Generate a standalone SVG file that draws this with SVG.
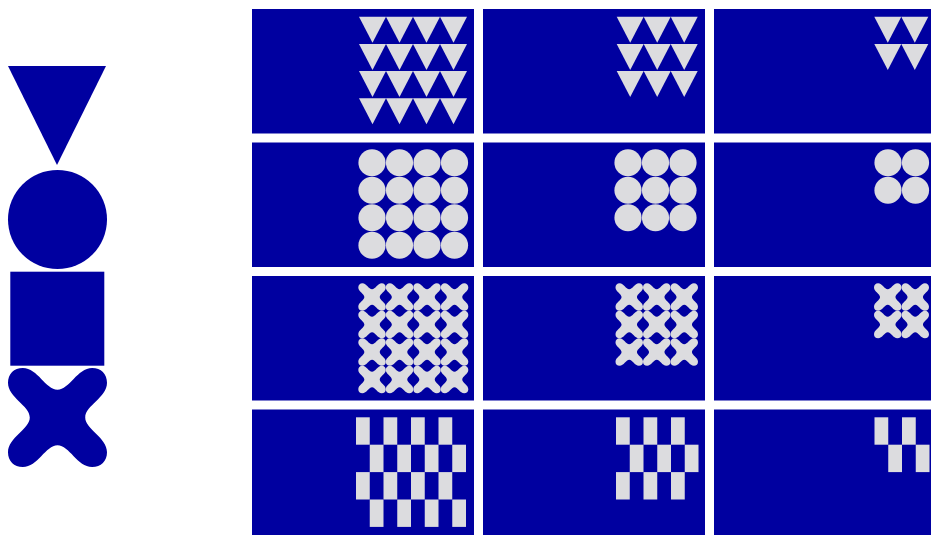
<svg xmlns="http://www.w3.org/2000/svg" xmlns:xlink="http://www.w3.org/1999/xlink" width="931" height="535" viewBox="0 0 931 535">
<style>
.b{fill:#0000a0}
.g{fill:#dcdcdf}
</style>
<defs>
<polygon id="tri" points="0,0 27,0 13.5,26"/>
<path id="cross" d="M50,22 C62,22 70,0 85,0 C94,0 100,6 100,15 C100,30 78,38 78,50 C78,62 100,70 100,85 C100,94 94,100 85,100 C70,100 62,78 50,78 C38,78 30,100 15,100 C6,100 0,94 0,85 C0,70 22,62 22,50 C22,38 0,30 0,15 C0,6 6,0 15,0 C30,0 38,22 50,22 Z"/>
</defs>
<rect width="931" height="535" fill="#ffffff"/>
<g id="legend" class="b">
<polygon points="8,66 106,66 57,165"/>
<circle cx="57.5" cy="219.5" r="49.5"/>
<rect x="10.3" y="271.7" width="94" height="94"/>
<use href="#cross" transform="translate(8,368) scale(0.99)"/>
</g>
<g id="panels" class="b">
<rect x="252" y="9" width="222" height="124.5"/>
<rect x="483" y="9" width="222" height="124.5"/>
<rect x="714" y="9" width="222" height="124.5"/>
<rect x="252" y="142.5" width="222" height="124.5"/>
<rect x="483" y="142.5" width="222" height="124.5"/>
<rect x="714" y="142.5" width="222" height="124.5"/>
<rect x="252" y="276" width="222" height="124.5"/>
<rect x="483" y="276" width="222" height="124.5"/>
<rect x="714" y="276" width="222" height="124.5"/>
<rect x="252" y="409.5" width="222" height="125.5"/>
<rect x="483" y="409.5" width="222" height="125.5"/>
<rect x="714" y="409.5" width="222" height="125.5"/>
</g>
<g id="triangles" class="g">
<use href="#tri" x="359" y="16.7"/><use href="#tri" x="386" y="16.7"/><use href="#tri" x="413" y="16.7"/><use href="#tri" x="440" y="16.7"/>
<use href="#tri" x="359" y="43.9"/><use href="#tri" x="386" y="43.9"/><use href="#tri" x="413" y="43.9"/><use href="#tri" x="440" y="43.9"/>
<use href="#tri" x="359" y="71.1"/><use href="#tri" x="386" y="71.1"/><use href="#tri" x="413" y="71.1"/><use href="#tri" x="440" y="71.1"/>
<use href="#tri" x="359" y="98.3"/><use href="#tri" x="386" y="98.3"/><use href="#tri" x="413" y="98.3"/><use href="#tri" x="440" y="98.3"/>
<use href="#tri" x="616.7" y="16.7"/><use href="#tri" x="643.7" y="16.7"/><use href="#tri" x="670.7" y="16.7"/>
<use href="#tri" x="616.7" y="43.9"/><use href="#tri" x="643.7" y="43.9"/><use href="#tri" x="670.7" y="43.9"/>
<use href="#tri" x="616.7" y="71.1"/><use href="#tri" x="643.7" y="71.1"/><use href="#tri" x="670.7" y="71.1"/>
<use href="#tri" x="874.3" y="16.7"/><use href="#tri" x="901.3" y="16.7"/>
<use href="#tri" x="874.3" y="43.9"/><use href="#tri" x="901.3" y="43.9"/>
</g>
<g id="circles" class="g">
<circle cx="372" cy="162.75" r="13.6"/><circle cx="399.5" cy="162.75" r="13.6"/><circle cx="427" cy="162.75" r="13.6"/><circle cx="454.5" cy="162.75" r="13.6"/>
<circle cx="372" cy="190.25" r="13.6"/><circle cx="399.5" cy="190.25" r="13.6"/><circle cx="427" cy="190.25" r="13.6"/><circle cx="454.5" cy="190.25" r="13.6"/>
<circle cx="372" cy="217.75" r="13.6"/><circle cx="399.5" cy="217.75" r="13.6"/><circle cx="427" cy="217.75" r="13.6"/><circle cx="454.5" cy="217.75" r="13.6"/>
<circle cx="372" cy="245.25" r="13.6"/><circle cx="399.5" cy="245.25" r="13.6"/><circle cx="427" cy="245.25" r="13.6"/><circle cx="454.5" cy="245.25" r="13.6"/>
<circle cx="628" cy="162.75" r="13.6"/><circle cx="655.5" cy="162.75" r="13.6"/><circle cx="683" cy="162.75" r="13.6"/>
<circle cx="628" cy="190.25" r="13.6"/><circle cx="655.5" cy="190.25" r="13.6"/><circle cx="683" cy="190.25" r="13.6"/>
<circle cx="628" cy="217.75" r="13.6"/><circle cx="655.5" cy="217.75" r="13.6"/><circle cx="683" cy="217.75" r="13.6"/>
<circle cx="888" cy="162.75" r="13.6"/><circle cx="915.5" cy="162.75" r="13.6"/>
<circle cx="888" cy="190.25" r="13.6"/><circle cx="915.5" cy="190.25" r="13.6"/>
</g>
<g id="crosses" class="g">
<use href="#cross" transform="translate(358.3,283.3) scale(0.275)"/><use href="#cross" transform="translate(385.8,283.3) scale(0.275)"/><use href="#cross" transform="translate(413.3,283.3) scale(0.275)"/><use href="#cross" transform="translate(440.8,283.3) scale(0.275)"/>
<use href="#cross" transform="translate(358.3,310.8) scale(0.275)"/><use href="#cross" transform="translate(385.8,310.8) scale(0.275)"/><use href="#cross" transform="translate(413.3,310.8) scale(0.275)"/><use href="#cross" transform="translate(440.8,310.8) scale(0.275)"/>
<use href="#cross" transform="translate(358.3,338.3) scale(0.275)"/><use href="#cross" transform="translate(385.8,338.3) scale(0.275)"/><use href="#cross" transform="translate(413.3,338.3) scale(0.275)"/><use href="#cross" transform="translate(440.8,338.3) scale(0.275)"/>
<use href="#cross" transform="translate(358.3,365.8) scale(0.275)"/><use href="#cross" transform="translate(385.8,365.8) scale(0.275)"/><use href="#cross" transform="translate(413.3,365.8) scale(0.275)"/><use href="#cross" transform="translate(440.8,365.8) scale(0.275)"/>
<use href="#cross" transform="translate(615.5,283.3) scale(0.275)"/><use href="#cross" transform="translate(643,283.3) scale(0.275)"/><use href="#cross" transform="translate(670.5,283.3) scale(0.275)"/>
<use href="#cross" transform="translate(615.5,310.8) scale(0.275)"/><use href="#cross" transform="translate(643,310.8) scale(0.275)"/><use href="#cross" transform="translate(670.5,310.8) scale(0.275)"/>
<use href="#cross" transform="translate(615.5,338.3) scale(0.275)"/><use href="#cross" transform="translate(643,338.3) scale(0.275)"/><use href="#cross" transform="translate(670.5,338.3) scale(0.275)"/>
<use href="#cross" transform="translate(874,283.3) scale(0.275)"/><use href="#cross" transform="translate(901.5,283.3) scale(0.275)"/>
<use href="#cross" transform="translate(874,310.8) scale(0.275)"/><use href="#cross" transform="translate(901.5,310.8) scale(0.275)"/>
</g>
<g id="checkers" class="g">
<rect x="356" y="417.3" width="13.75" height="27.4"/><rect x="383.5" y="417.3" width="13.75" height="27.4"/><rect x="411" y="417.3" width="13.75" height="27.4"/><rect x="438.5" y="417.3" width="13.75" height="27.4"/>
<rect x="369.75" y="444.7" width="13.75" height="27.4"/><rect x="397.25" y="444.7" width="13.75" height="27.4"/><rect x="424.75" y="444.7" width="13.75" height="27.4"/><rect x="452.25" y="444.7" width="13.75" height="27.4"/>
<rect x="356" y="472.1" width="13.75" height="27.4"/><rect x="383.5" y="472.1" width="13.75" height="27.4"/><rect x="411" y="472.1" width="13.75" height="27.4"/><rect x="438.5" y="472.1" width="13.75" height="27.4"/>
<rect x="369.75" y="499.5" width="13.75" height="27.4"/><rect x="397.25" y="499.5" width="13.75" height="27.4"/><rect x="424.75" y="499.5" width="13.75" height="27.4"/><rect x="452.25" y="499.5" width="13.75" height="27.4"/>
<rect x="616" y="417.3" width="13.75" height="27.4"/><rect x="643.5" y="417.3" width="13.75" height="27.4"/><rect x="671" y="417.3" width="13.75" height="27.4"/>
<rect x="629.75" y="444.7" width="13.75" height="27.4"/><rect x="657.25" y="444.7" width="13.75" height="27.4"/><rect x="684.75" y="444.7" width="13.75" height="27.4"/>
<rect x="616" y="472.1" width="13.75" height="27.4"/><rect x="643.5" y="472.1" width="13.75" height="27.4"/><rect x="671" y="472.1" width="13.75" height="27.4"/>
<rect x="874.5" y="417.3" width="13.75" height="27.4"/><rect x="902" y="417.3" width="13.75" height="27.4"/>
<rect x="888.25" y="444.7" width="13.75" height="27.4"/><rect x="915.75" y="444.7" width="13.75" height="27.4"/>
</g>
</svg>
